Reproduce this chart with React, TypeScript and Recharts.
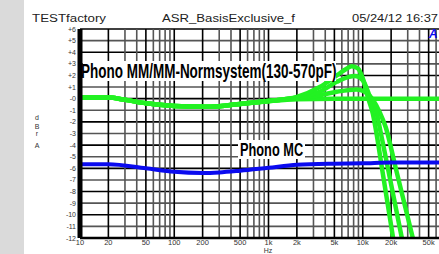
import { LineChart, Line, XAxis, YAxis, ReferenceLine } from 'recharts'

// frequency response, dBr A vs Hz
const FREQ_TICKS = [10, 20, 50, 100, 200, 500, 1000, 2000, 5000, 10000, 20000, 50000]
const DB_TICKS = [-12, -11, -10, -9, -8, -7, -6, -5, -4, -3, -2, -1, 0, 1, 2, 3, 4, 5, 6]
const GRID_FREQS = [
  20, 30, 40, 50, 60, 70, 80, 90, 100, 200, 300, 400, 500, 600, 700, 800, 900, 1000, 2000, 3000,
  4000, 5000, 6000, 7000, 8000, 9000, 10000, 20000, 30000, 40000, 50000, 60000, 70000, 80000, 90000,
]
const GRID_DB = [-11, -10, -9, -8, -7, -6, -5, -4, -3, -2, -1, 0, 1, 2, 3, 4, 5, 6]

const MM_FLAT_HZ = [10, 20, 30, 50, 100, 200, 300, 500, 1000, 2000, 5000, 10000, 20000, 50000, 100000]
const MM_FLAT_DB = [0.1, 0.1, -0.1, -0.4, -0.63, -0.7, -0.65, -0.45, -0.22, -0.05, 0, 0, 0, 0, 0]

const MM_570_HZ = [10, 20, 30, 50, 100, 200, 300, 500, 1000, 2000, 3500, 5300, 6800, 7650, 8900, 10000, 11300, 12800, 14000, 16000, 21000]
const MM_570_DB = [0.1, 0.1, -0.1, -0.4, -0.63, -0.7, -0.65, -0.45, -0.2, 0.15, 1.0, 2.0, 2.6, 2.8, 2.6, 1.75, 0.15, -1.3, -3.0, -6.0, -12]

const MM_350_HZ = [10, 20, 30, 50, 100, 200, 300, 500, 1000, 2000, 3500, 5300, 7000, 8300, 10000, 11900, 14000, 15500, 18500, 26000]
const MM_350_DB = [0.1, 0.1, -0.1, -0.4, -0.63, -0.7, -0.65, -0.45, -0.2, 0.1, 0.6, 1.45, 1.85, 1.95, 1.6, 0.17, -1.2, -2.9, -6, -12]

const MM_130_HZ = [10, 20, 30, 50, 100, 200, 300, 500, 1000, 2000, 3500, 5300, 8600, 11000, 12800, 15200, 17600, 22400, 34000]
const MM_130_DB = [0.1, 0.1, -0.1, -0.4, -0.63, -0.7, -0.65, -0.45, -0.2, 0.05, 0.3, 0.6, 0.8, 0.5, -0.1, -1.2, -2.5, -6, -12]

const MC_HZ = [10, 20, 50, 100, 200, 300, 500, 1000, 2000, 5000, 10000, 20000, 50000, 100000]
const MC_DB = [-5.65, -5.65, -6.0, -6.3, -6.4, -6.35, -6.2, -5.95, -5.7, -5.6, -5.57, -5.5, -5.5, -5.5]

const GREEN = '#22f222'
const BLUE = '#0a0aef'
const FONT = '"Liberation Sans", Arial, Helvetica, sans-serif'

function punkte(hz: number[], db: number[]) {
  return hz.map((f, i) => ({ hz: f, db: db[i] }))
}

function freqLabel(v: number) {
  return v >= 1000 ? `${v / 1000}k` : `${v}`
}

function dbLabel(v: number) {
  if (v > 0) return `+${v}`
  if (v === 0) return '-0'
  return `${v}`
}

function gridColor(f: number) {
  const d = Number(String(f)[0])
  return d === 1 || d === 2 || d === 5 ? '#000' : '#555'
}

const XTick = (props: any) => (
  <text x={props.x} y={props.y + 7} textAnchor="middle" fontSize={7.5} fill="#333" fontFamily={FONT}>
    {freqLabel(props.payload.value)}
  </text>
)

const YTick = (props: any) => (
  <text x={props.x} y={props.y + 2.5} textAnchor="end" fontSize={7} fill="#333" fontFamily={FONT}>
    {dbLabel(props.payload.value)}
  </text>
)

export default function App() {
  const series = [
    { key: 'flat', data: punkte(MM_FLAT_HZ, MM_FLAT_DB), color: GREEN, w: 4.5 },
    { key: '130', data: punkte(MM_130_HZ, MM_130_DB), color: GREEN, w: 4.5 },
    { key: '350', data: punkte(MM_350_HZ, MM_350_DB), color: GREEN, w: 4.5 },
    { key: '570', data: punkte(MM_570_HZ, MM_570_DB), color: GREEN, w: 4.5 },
    { key: 'mc', data: punkte(MC_HZ, MC_DB), color: BLUE, w: 4 },
  ]

  return (
    <div style={{ position: 'fixed', left: 0, top: 0, width: 439, height: 254, overflow: 'hidden', background: '#fff' }}>
      <div style={{ position: 'absolute', left: 0, top: 0, width: 24, height: 254, background: '#dadada' }} />
      <div style={{ position: 'absolute', left: 0, top: 0 }}>
        <LineChart width={457} height={254} margin={{ top: 29, right: 0, bottom: 0, left: 0 }}>
          <XAxis
            dataKey="hz"
            type="number"
            scale="log"
            domain={[10, 100000]}
            allowDataOverflow
            ticks={FREQ_TICKS}
            interval={0}
            height={16}
            tickSize={0}
            tickMargin={0}
            tick={<XTick />}
            axisLine={{ stroke: '#000', strokeWidth: 2.5 }}
          />
          <YAxis
            type="number"
            domain={[-12, 6]}
            ticks={DB_TICKS}
            interval={0}
            width={80}
            tickSize={0}
            tickMargin={4}
            tick={<YTick />}
            axisLine={{ stroke: '#000', strokeWidth: 5 }}
          />
          {GRID_DB.map((v) => (
            <ReferenceLine key={'h' + v} y={v} stroke={v % 2 === 0 ? '#000' : '#555'} strokeWidth={1.6} />
          ))}
          {GRID_FREQS.map((f) => (
            <ReferenceLine key={'v' + f} x={f} stroke={gridColor(f)} strokeWidth={1.6} />
          ))}
          <ReferenceLine x={10} stroke="#888" strokeWidth={2} strokeDasharray="0.8 1.5" />
          {series.map((s) => (
            <Line
              key={s.key}
              data={s.data}
              dataKey="db"
              type="monotone"
              stroke={s.color}
              strokeWidth={s.w}
              dot={false}
              isAnimationActive={false}
            />
          ))}
        </LineChart>
      </div>
      <svg width={439} height={254} style={{ position: 'absolute', left: 0, top: 0 }}>
        <g fontFamily={FONT} fill="#222">
          <text x={32} y={22} fontSize={10} textLength={74} lengthAdjust="spacingAndGlyphs">TESTfactory</text>
          <text x={162} y={22} fontSize={10} textLength={133} lengthAdjust="spacingAndGlyphs">ASR_BasisExclusive_f</text>
          <text x={352} y={22} fontSize={10} textLength={86} lengthAdjust="spacingAndGlyphs">05/24/12 16:37</text>
          <text x={268} y={253} fontSize={7} textAnchor="middle" fill="#333">Hz</text>
          <g fontSize={7} textAnchor="middle" fill="#333">
            <text x={37} y={120}>d</text>
            <text x={37} y={129}>B</text>
            <text x={37} y={136}>r</text>
            <text x={37} y={148}>A</text>
          </g>
        </g>
        <rect x={83} y={61} width={253} height={20} fill="#fff" />
        <g transform="translate(81,78) scale(0.675,1)">
          <text x={0} y={0} fontSize={20} fontWeight="bold" fontFamily={FONT} fill="#000">
            Phono MM/MM-Normsystem(130-570pF)
          </text>
        </g>
        <rect x={238} y={140} width={67} height={19} fill="#fff" />
        <g transform="translate(240,156) scale(0.71,1)">
          <text x={0} y={0} fontSize={18} fontWeight="bold" fontFamily={FONT} fill="#000">
            Phono MC
          </text>
        </g>
        <text x={429} y={38} fontSize={12} fontWeight="bold" fontStyle="italic" fontFamily={FONT} fill={BLUE}>A</text>
      </svg>
    </div>
  )
}
